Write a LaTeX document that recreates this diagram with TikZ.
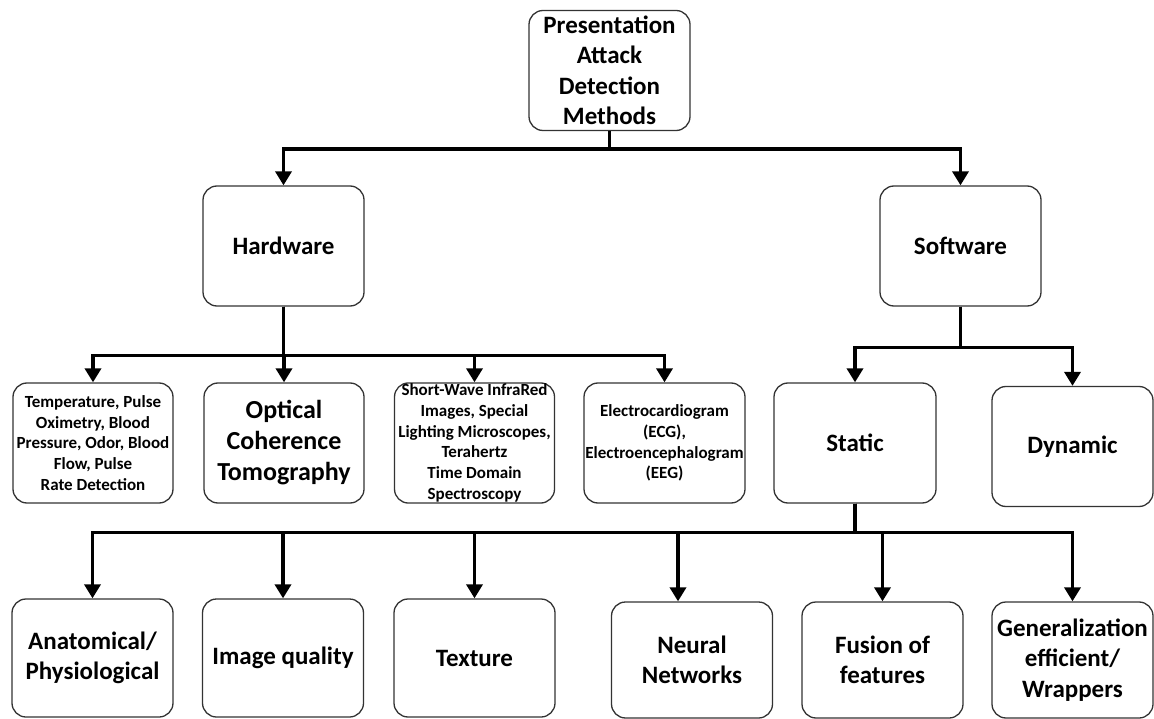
\documentclass[tikz,border=0pt]{standalone}
\usepackage{fontspec}
\setmainfont{Carlito}
\usepackage{tikz}
\usetikzlibrary{arrows.meta}
\definecolor{frame}{HTML}{333333}
\tikzset{
  box/.style={draw=frame, line width=1.3pt, rounded corners=14pt, align=center,
    minimum width=161pt, minimum height=120pt, inner sep=1pt,
    font=\bfseries\fontsize{25}{30.5}\selectfont},
  smallbox/.style={box, font=\bfseries\fontsize{17}{20.7}\selectfont},
  bigbox/.style={box, font=\bfseries\fontsize{26}{31}\selectfont},
  conn/.style={draw=black, line width=3.6pt,
    -{Triangle[width=16pt,length=14pt]}},
}

\begin{document}
\begin{tikzpicture}[x=1pt,y=-1pt]
  \useasboundingbox (0,0) rectangle (1154,719);
  % root and first level
  \node[box] (pad) at (609.5,70.5) {Presentation\\Attack\\Detection\\Methods};
  \node[box] (hw) at (283.5,246) {Hardware};
  \node[box] (sw) at (960.5,246) {Software};
  % hardware methods
  \node[smallbox, minimum width=160pt] (temp) at (93,443)
    {Temperature, Pulse\\Oximetry, Blood\\Pressure, Odor, Blood\\Flow, Pulse\\Rate Detection};
  \node[bigbox, minimum width=160pt] (oct) at (284,443) {Optical\\Coherence\\Tomography};
  \node[smallbox, minimum width=160pt] (swir) at (474.5,443)
    {Short-Wave InfraRed\\Images, Special\\Lighting Microscopes,\\Terahertz\\Time Domain\\Spectroscopy};
  \node[smallbox] (ecg) at (664.5,443)
    {Electrocardiogram\\(ECG),\\Electroencephalogram\\(EEG)};
  % software methods
  \node[box, minimum width=162pt] (static) at (855,443) {Static};
  \node[box] (dynamic) at (1072.5,446.5) {Dynamic};
  % static methods
  \node[box, minimum height=118pt] (anat) at (92.5,658) {Anatomical/\\Physiological};
  \node[box, minimum height=118pt] (iq) at (283,658) {Image quality};
  \node[box, minimum height=118pt] (tex) at (474.5,658) {Texture};
  \node[box, minimum height=116pt] (nn) at (692,660) {Neural\\Networks};
  \node[box, minimum height=116pt] (fus) at (882.5,660) {Fusion of\\features};
  \node[box, minimum height=116pt] (gen) at (1072.5,660) {Generalization\\efficient/\\Wrappers};

  \draw[conn] (pad.south) -- ++(0,18) -| (hw.north);
  \draw[conn] (pad.south) -- ++(0,18) -| (sw.north);

  \draw[conn] (hw.south) -- ++(0,49) -| (temp.north);
  \draw[conn] (hw.south) -- ++(0,49) -| (oct.north);
  \draw[conn] (hw.south) -- ++(0,49) -| (swir.north);
  \draw[conn] (hw.south) -- ++(0,49) -| (ecg.north);

  \draw[conn] (sw.south) -- ++(0,41) -| (static.north);
  \draw[conn] (sw.south) -- ++(0,41) -| (dynamic.north);

  \draw[conn] (static.south) -- ++(0,29) -| (anat.north);
  \draw[conn] (static.south) -- ++(0,29) -| (iq.north);
  \draw[conn] (static.south) -- ++(0,29) -| (tex.north);
  \draw[conn] (static.south) -- ++(0,29) -| ([xshift=-14pt]nn.north);
  \draw[conn] (static.south) -- ++(0,29) -| (fus.north);
  \draw[conn] (static.south) -- ++(0,29) -| (gen.north);
\end{tikzpicture}
\end{document}
